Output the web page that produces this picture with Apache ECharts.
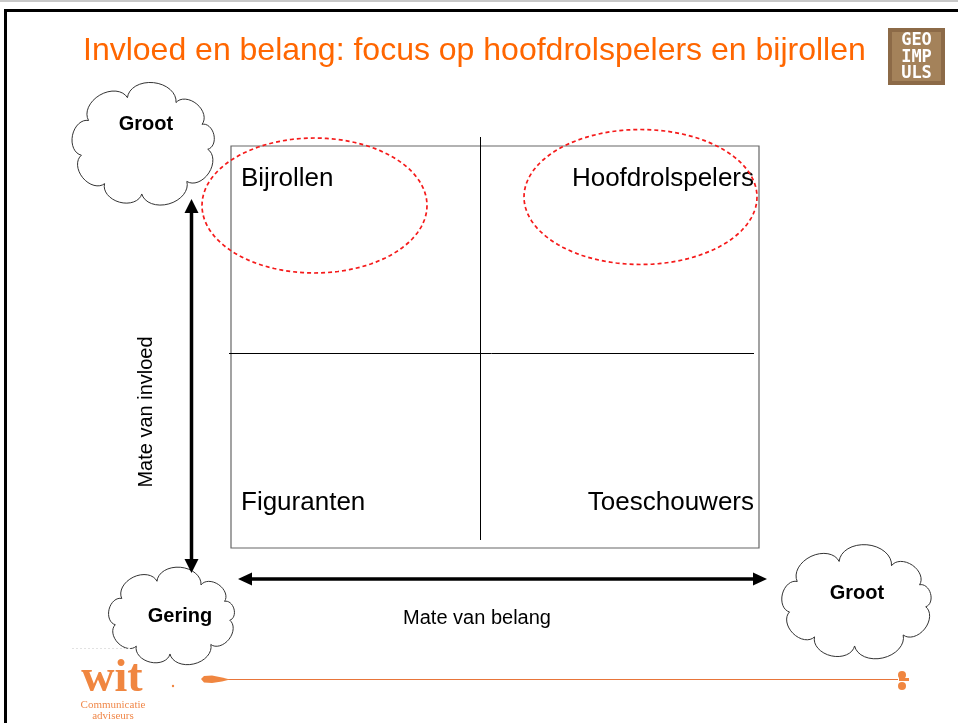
<!DOCTYPE html>
<html style="height: 100%">
<head>
    <meta charset="utf-8">
</head>
<body style="height: 100%; margin: 0; background: #fff">
<div id="container" style="width: 958px; height: 723px"></div>

<script src="https://cdn.jsdelivr.net/npm/echarts@6/dist/echarts.min.js"></script>
<script type="text/javascript">
    // slide content
    var titleText = 'Invloed en belang: focus op hoofdrolspelers en bijrollen';
    var quadrantNames = ['Bijrollen', 'Hoofdrolspelers', 'Figuranten', 'Toeschouwers'];
    var quadrantBelang = [0, 1, 0, 1];   // column: 0 = gering, 1 = groot
    var quadrantInvloed = [1, 1, 0, 0];  // row: 0 = gering, 1 = groot
    var focusNames = ['Bijrollen', 'Hoofdrolspelers'];
    var axisTitles = ['Mate van belang', 'Mate van invloed'];
    var levelNames = ['Gering', 'Groot'];
    var logoLines = ['GEO', 'IMP', 'ULS'];
    var footerBrand = ['wit', 'Communicatie', 'adviseurs'];

    var dom = document.getElementById('container');
    var myChart = echarts.init(dom, null, { renderer: 'canvas' });

    var SANS = '"Liberation Sans", Arial, sans-serif';
    var SERIF = '"Liberation Serif", "Times New Roman", serif';

    function ellipsePts(cx, cy, rx, ry) {
        var pts = [];
        for (var i = 0; i < 120; i++) {
            var a = i / 120 * Math.PI * 2;
            pts.push([cx + rx * Math.cos(a), cy + ry * Math.sin(a)]);
        }
        return pts;
    }

    // scalloped outline: half-ellipse bumps between points on a base ellipse
    function cloudPts(cx, cy, rx, ry) {
        var angles = [5, 48, 92, 128, 168, 210, 255, 300, 335];
        var P = angles.map(function (d) {
            var a = d * Math.PI / 180;
            return [cx + rx * Math.cos(a), cy + ry * Math.sin(a)];
        });
        var pts = [];
        for (var i = 0; i < P.length; i++) {
            var A = P[i], B = P[(i + 1) % P.length];
            var dx = B[0] - A[0], dy = B[1] - A[1];
            var c = Math.sqrt(dx * dx + dy * dy);
            var ux = dx / c, uy = dy / c;
            var nx = uy, ny = -ux;
            var mx = (A[0] + B[0]) / 2, my = (A[1] + B[1]) / 2;
            var h = c * 0.36;
            for (var s = 0; s < 16; s++) {
                var t = Math.PI * s / 16;
                pts.push([
                    mx - Math.cos(t) * c / 2 * ux + Math.sin(t) * h * nx,
                    my - Math.cos(t) * c / 2 * uy + Math.sin(t) * h * ny
                ]);
            }
        }
        return pts;
    }

    function cloud(cx, cy, rx, ry, label, lx, ly) {
        return [
            {
                type: 'polygon',
                shape: { points: cloudPts(cx, cy, rx, ry) },
                style: { fill: '#fff', stroke: '#333', lineWidth: 1 }
            },
            {
                type: 'text',
                x: lx, y: ly,
                style: {
                    text: label, font: 'bold 20px ' + SANS, fill: '#000',
                    align: 'center', verticalAlign: 'middle',
                    textAlign: 'center', textVerticalAlign: 'middle'
                }
            }
        ];
    }

    function txt(x, y, text, font, fill, align, rot) {
        return {
            type: 'text', x: x, y: y, rotation: rot || 0,
            style: {
                text: text, font: font, fill: fill,
                align: align || 'left', verticalAlign: 'middle',
                textAlign: align || 'left', textVerticalAlign: 'middle'
            }
        };
    }

    function renderQuadrant(params, api) {
        var col = api.value(0), row = api.value(1);
        var name = quadrantNames[params.dataIndex];
        var cs = params.coordSys;
        var mid = api.coord([1, 1]);
        var left = col === 0 ? cs.x : mid[0];
        var right = col === 0 ? mid[0] : cs.x + cs.width;
        var top = row === 1 ? cs.y : mid[1];
        var bottom = row === 1 ? mid[1] : cs.y + cs.height;
        var tx = col === 0 ? left + 10 : right - 5;
        var ty = row === 1 ? top + 33 : bottom - 45;
        var children = [{
            type: 'text',
            style: {
                x: tx, y: ty, text: name, font: '26px ' + SANS, fill: '#000',
                align: col === 0 ? 'left' : 'right', verticalAlign: 'middle'
            }
        }];
        if (focusNames.indexOf(name) >= 0) {
            var cx = col === 0 ? tx + 73.5 : tx - 113.5;
            var cy = ty + (col === 0 ? 26.5 : 18);
            var rx = col === 0 ? 112.5 : 116.5;
            children.push({
                type: 'polygon',
                shape: { points: ellipsePts(cx, cy, rx, 67.5) },
                style: { fill: 'none', stroke: '#f51a1a', lineWidth: 1.7, lineDash: [4, 3] }
            });
        }
        return { type: 'group', children: children };
    }

    function renderCross(params, api) {
        var cs = params.coordSys;
        var p = api.coord([api.value(0), api.value(1)]);
        var x = Math.round(p[0]) + 0.5, y = Math.round(p[1]) + 0.5;
        return {
            type: 'group',
            children: [
                { type: 'line', shape: { x1: x, y1: cs.y - 9, x2: x, y2: cs.y + cs.height - 8 },
                  style: { stroke: '#000', lineWidth: 1 } },
                { type: 'line', shape: { x1: cs.x - 2, y1: y, x2: cs.x + cs.width - 5, y2: y },
                  style: { stroke: '#000', lineWidth: 1 } }
            ]
        };
    }

    var quadrantData = quadrantNames.map(function (n, i) {
        return [quadrantBelang[i], quadrantInvloed[i], n];
    });

    var graphics = [];
    // slide frame
    graphics.push({ type: 'line', shape: { x1: 0, y1: 1, x2: 958, y2: 1 }, style: { stroke: '#c8c8c8', lineWidth: 2 } });
    graphics.push({ type: 'line', shape: { x1: 4, y1: 10.5, x2: 958, y2: 10.5 }, style: { stroke: '#000', lineWidth: 3 } });
    graphics.push({ type: 'line', shape: { x1: 5.5, y1: 9, x2: 5.5, y2: 723 }, style: { stroke: '#000', lineWidth: 3 } });
    // title
    graphics.push(txt(83, 51, titleText, '32px ' + SANS, '#ff6600'));
    // logo top right
    graphics.push({ type: 'rect', shape: { x: 888, y: 28, width: 57, height: 57 }, style: { fill: '#8c6a47' } });
    graphics.push({ type: 'rect', shape: { x: 892, y: 32, width: 49, height: 49 }, style: { fill: '#a4825a' } });
    logoLines.forEach(function (l, i) {
        graphics.push(txt(916.5, 41 + i * 16.5, l, 'bold 17px "DejaVu Sans Mono", monospace', '#fff', 'center'));
    });
    // clouds
    graphics = graphics.concat(cloud(144, 145, 64, 49, levelNames[1], 146, 124));
    graphics = graphics.concat(cloud(172, 617, 58, 37, levelNames[0], 180, 616));
    graphics = graphics.concat(cloud(857, 603, 69, 43, levelNames[1], 857, 593));
    // vertical double arrow
    graphics.push({ type: 'line', shape: { x1: 191.5, y1: 210, x2: 191.5, y2: 562 }, style: { stroke: '#000', lineWidth: 3.5 } });
    graphics.push({ type: 'polygon', shape: { points: [[184.5, 213], [198.5, 213], [191.5, 199]] }, style: { fill: '#000' } });
    graphics.push({ type: 'polygon', shape: { points: [[184.5, 559], [198.5, 559], [191.5, 573]] }, style: { fill: '#000' } });
    // horizontal double arrow
    graphics.push({ type: 'line', shape: { x1: 250, y1: 579, x2: 756, y2: 579 }, style: { stroke: '#000', lineWidth: 3.5 } });
    graphics.push({ type: 'polygon', shape: { points: [[252, 572.5], [252, 585.5], [238, 579]] }, style: { fill: '#000' } });
    graphics.push({ type: 'polygon', shape: { points: [[753, 572.5], [753, 585.5], [767, 579]] }, style: { fill: '#000' } });
    // axis titles
    graphics.push(txt(477, 618, axisTitles[0], '20px ' + SANS, '#000', 'center'));
    graphics.push(txt(146, 412, axisTitles[1], '20px ' + SANS, '#000', 'center', Math.PI / 2));
    // footer
    graphics.push({ type: 'line', shape: { x1: 72, y1: 648.5, x2: 130, y2: 648.5 }, style: { stroke: '#e2e2e2', lineWidth: 1, lineDash: [2, 2] } });
    graphics.push(txt(112, 679, footerBrand[0], 'bold 46px ' + SERIF, '#f08640', 'center'));
    graphics.push(txt(113, 705, footerBrand[1], '11px ' + SERIF, '#f0884a', 'center'));
    graphics.push(txt(113, 716, footerBrand[2], '11px ' + SERIF, '#f0884a', 'center'));
    graphics.push({ type: 'circle', shape: { cx: 173, cy: 686, r: 1.2 }, style: { fill: '#f08640' } });
    graphics.push({ type: 'line', shape: { x1: 226, y1: 679.5, x2: 898, y2: 679.5 }, style: { stroke: '#e8753a', lineWidth: 1 } });
    graphics.push({ type: 'polygon', shape: { points: [[201, 679], [204, 676], [212, 675.5], [222, 677.5], [230, 679.5], [222, 681.5], [212, 683], [204, 682.5]] }, style: { fill: '#f08640' } });
    graphics.push({ type: 'circle', shape: { cx: 902, cy: 675, r: 4 }, style: { fill: '#f08640' } });
    graphics.push({ type: 'circle', shape: { cx: 902, cy: 686, r: 4 }, style: { fill: '#f08640' } });
    graphics.push({ type: 'rect', shape: { x: 899, y: 678, width: 10, height: 3 }, style: { fill: '#f08640' } });

    var option = {
        animation: false,
        backgroundColor: '#fff',
        graphic: { elements: graphics },
        grid: {
            left: 231, top: 146, width: 528, height: 402,
            show: true, borderColor: '#666', borderWidth: 1.2, backgroundColor: 'transparent'
        },
        // dividers sit a little left of / below centre in the original slide
        xAxis: { type: 'value', min: 0, max: 2.12, show: false },
        yAxis: { type: 'value', min: 0, max: 2.06, show: false },
        series: [
            {
                type: 'custom',
                coordinateSystem: 'cartesian2d',
                renderItem: renderCross,
                data: [[1, 1]],
                silent: true
            },
            {
                type: 'custom',
                coordinateSystem: 'cartesian2d',
                renderItem: renderQuadrant,
                data: quadrantData,
                silent: true,
                z: 5
            }
        ]
    };

    if (option && typeof option === 'object') {
        myChart.setOption(option);
    }
</script>
</body>
</html>
